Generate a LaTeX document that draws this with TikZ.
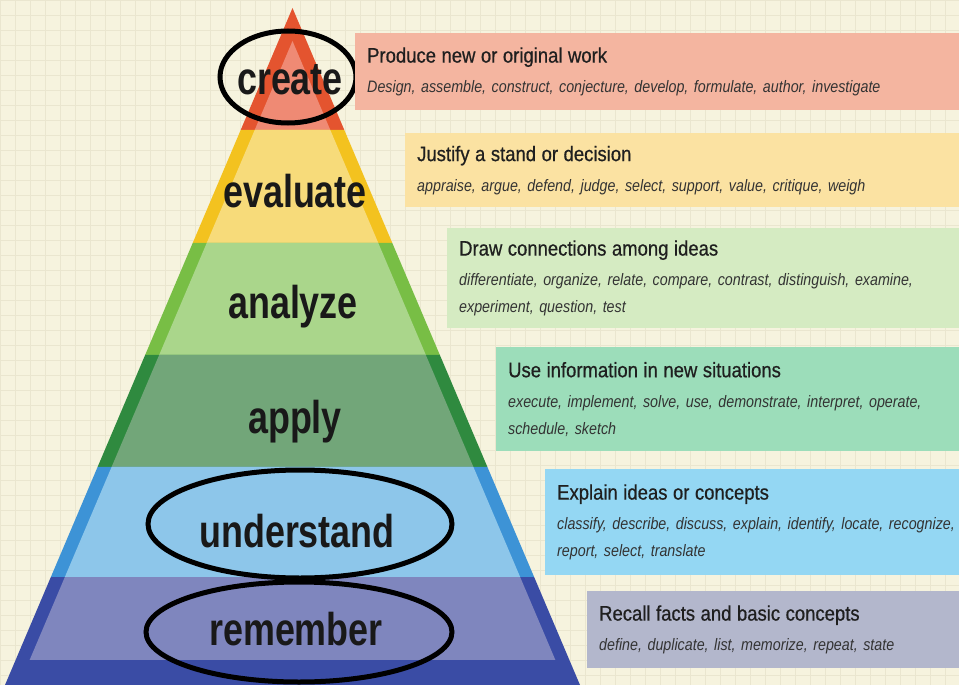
\documentclass[tikz,border=0pt]{standalone}
\usepackage{fontspec}
\setmainfont{Liberation Sans}
\newfontfamily\tierfont{Liberation Sans}[FakeStretch=0.78]
\newfontfamily\headfont{Liberation Sans}[FakeStretch=0.88,FakeBold=0.6]
\newfontfamily\verbfont{Liberation Sans}[FakeStretch=0.86]
\usepackage{tikz}
\usepackage{xcolor}
\usetikzlibrary{calc,shapes.geometric}
\definecolor{bgcream}{HTML}{F6F3DE}
\definecolor{gridline}{HTML}{EAE6CF}
\definecolor{createO}{HTML}{E4542F}
\definecolor{createI}{HTML}{EF8A74}
\definecolor{evaluateO}{HTML}{F3C21F}
\definecolor{evaluateI}{HTML}{F7DB7A}
\definecolor{analyzeO}{HTML}{78BE45}
\definecolor{analyzeI}{HTML}{AAD68B}
\definecolor{applyO}{HTML}{2F8A3F}
\definecolor{applyI}{HTML}{72A679}
\definecolor{understandO}{HTML}{3D93D6}
\definecolor{understandI}{HTML}{8DC6EA}
\definecolor{rememberO}{HTML}{3A4CA5}
\definecolor{rememberI}{HTML}{7F86BE}
\definecolor{createbox}{HTML}{F4B5A0}
\definecolor{evaluatebox}{HTML}{FBE2A2}
\definecolor{analyzebox}{HTML}{D5EBC2}
\definecolor{applybox}{HTML}{9CDDBA}
\definecolor{understandbox}{HTML}{94D7F3}
\definecolor{rememberbox}{HTML}{B3B7CC}
\tikzset{
    tier-label/.style = {anchor=base, inner sep=0pt, text=black!90, font=\tierfont\bfseries\fontsize{46}{46}\selectfont},
    desc-box/.style = {rectangle, anchor=north west, inner xsep=12pt, inner ysep=3pt, text width=600pt, align=left, text=black!80, font=\verbfont\itshape\fontsize{16.6}{27}\selectfont},
    ring/.style = {ellipse, draw=black, line width=5pt, inner sep=0pt},
}
\newcommand{\boxtitle}[1]{{\headfont\upshape\color{black!88}\fontsize{21}{27}\selectfont #1}\\[3pt]}

\begin{document}
\begin{tikzpicture}[x=1pt,y=-1pt]
\useasboundingbox (0,0) rectangle (959,685);
\fill[bgcream] (0,0) rectangle (959,685);
\draw[gridline, line width=0.6pt] (0,0) grid[step=15pt] (959,685);

\coordinate (apex) at (292.5,8);
\coordinate (baseL) at (5,685);
\coordinate (baseR) at (580,685);

\foreach \ta/\tb/\bb/\ba/\outer/\inner in {8/41/130/130/createO/createI, 130/130/243/243/evaluateO/evaluateI, 243/243/355/355/analyzeO/analyzeI, 355/355/467/467/applyO/applyI, 467/467/577/577/understandO/understandI, 577/577/660/685/rememberO/rememberI}{
    \fill[\outer] ($(apex)!{(\ta-8)/677}!(baseL)$) -- ($(apex)!{(\ta-8)/677}!(baseR)$) -- ($(apex)!{(\ba-8)/677}!(baseR)$) -- ($(apex)!{(\ba-8)/677}!(baseL)$) -- cycle;
    \fill[\inner] ($(apex)!{(\tb-8)/677}!(baseL)+(14,0)$) -- ($(apex)!{(\tb-8)/677}!(baseR)+(-14,0)$) -- ($(apex)!{(\bb-8)/677}!(baseR)+(-14,0)$) -- ($(apex)!{(\bb-8)/677}!(baseL)+(14,0)$) -- cycle;
}

\node[tier-label] (create) at (290,95) {create};
\node[tier-label] (evaluate) at (295,207) {evaluate};
\node[tier-label] (analyze) at (293,318) {analyze};
\node[tier-label] (apply) at (295,433) {apply};
\node[tier-label] (understand) at (297,547) {understand};
\node[tier-label] (remember) at (296,645) {remember};

\node[ring, minimum width=136pt, minimum height=92pt] (create-ring) at (288,77) {};
\node[ring, minimum width=304pt, minimum height=108pt] (understand-ring) at (300,524) {};
\node[ring, minimum width=306pt, minimum height=100pt] (remember-ring) at (299,632) {};

\node[desc-box, fill=createbox, minimum height=77pt] (create-box) at (355,33) {\boxtitle{Produce new or original work}Design, assemble, construct, conjecture, develop, formulate, author, investigate};
\node[desc-box, fill=evaluatebox, minimum height=74pt] (evaluate-box) at (405,133) {\boxtitle{Justify a stand or decision}appraise, argue, defend, judge, select, support, value, critique, weigh};
\node[desc-box, fill=analyzebox, minimum height=100pt] (analyze-box) at (447,228) {\boxtitle{Draw connections among ideas}differentiate, organize, relate, compare, contrast, distinguish, examine,\\experiment, question, test};
\node[desc-box, fill=applybox, minimum height=104pt] (apply-box) at (496,347) {\boxtitle{Use information in new situations}execute, implement, solve, use, demonstrate, interpret, operate,\\schedule, sketch};
\node[desc-box, fill=understandbox, minimum height=106pt] (understand-box) at (545,469) {\boxtitle{Explain ideas or concepts}classify, describe, discuss, explain, identify, locate, recognize,\\report, select, translate};
\node[desc-box, fill=rememberbox, minimum height=77pt] (remember-box) at (587,591) {\boxtitle{Recall facts and basic concepts}define, duplicate, list, memorize, repeat, state};
\end{tikzpicture}
\end{document}
